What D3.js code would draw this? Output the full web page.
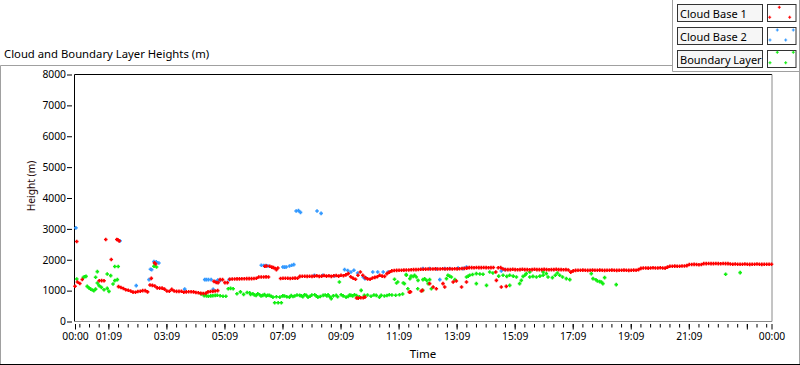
<!DOCTYPE html>
<html>
<head>
<meta charset="utf-8">
<script src="https://cdn.jsdelivr.net/npm/d3@7"></script>
<style>
  body { margin: 0; background: #fff; }
  svg text { font-family: "Noto Sans", "Segoe UI", sans-serif; fill: #000; }
</style>
</head>
<body>
<svg id="chart" width="800" height="365"></svg>
<script>

var seriesNames = ["Cloud Base 1", "Cloud Base 2", "Boundary Layer"];
var seriesColors = ["#ff0000", "#3399ff", "#11ee11"];

var yTicks = [0, 1000, 2000, 3000, 4000, 5000, 6000, 7000, 8000];
var timeTickHours = [0, 1.15, 3.15, 5.15, 7.15, 9.15, 11.15, 13.15, 15.15, 17.15, 19.15, 21.15, 24];
var timeTickLabels = ["00:00", "01:09", "03:09", "05:09", "07:09", "09:09", "11:09", "13:09", "15:09", "17:09", "19:09", "21:09", "00:00"];
var unlabelledMajor = [23.15];

// Cloud Base 1, dense part: [hour, height at :00, :05, :10 ... :55] (m)
var cloudBase1Rows = [
  [0, 1140, 1280, 1230, 1360, null, null, null, null, null, null, 1320, 1325],
  [1, 1320, null, null, null, null, null, 1130, 1100, 1070, 1030, 1010, 990],
  [2, 950, 945, 970, 980, 1000, 1000, 960, 1180, 1170, 1150, 1090, 1080],
  [3, 1080, 1050, 990, 980, 1040, 990, 975, 975, 980, 945, 960, 965],
  [4, 965, 960, 940, 930, 910, 905, 910, 960, 970, 975, 990, 1000],
  [5, 1356, 1356, 1260, 1258, 1370, 1375, 1376, 1380, 1380, 1385, 1385, 1390],
  [6, 1390, 1390, 1395, 1400, 1440, 1440, 1441, 1445, 1440, null, null, null],
  [7, null, 1395, 1400, 1400, 1400, 1395, 1400, 1405, 1400, 1460, 1465, 1465],
  [8, 1463, 1465, 1460, 1470, 1480, 1460, 1470, 1490, 1470, 1480, 1460, 1480],
  [9, 1490, 1470, 1500, 1480, 1510, 1551, 1450, 1400, 1366, 1496, 1603, 1500],
  [10, 1420, 1380, 1366, 1408, 1430, 1450, 1496, 1470, 1463, 1551, 1600, 1640],
  [11, 1650, 1655, 1660, 1660, 1665, 1670, 1670, 1675, 1680, 1680, 1685, 1690],
  [12, 1690, 1695, 1700, 1700, 1700, 1705, 1700, 1700, 1710, 1700, 1705, 1710],
  [13, 1700, 1710, 1705, 1710, 1715, 1720, 1730, 1746, 1746, 1740, 1750, 1746],
  [14, 1746, 1750, 1746, 1740, 1746, 1750, 1603, 1740, 1746, 1700, 1681, 1681],
  [15, 1681, 1690, 1681, 1675, 1681, 1690, 1681, 1681, 1675, 1681, 1690, 1681],
  [16, 1681, 1681, 1690, 1681, 1675, 1681, 1681, 1690, 1681, 1681, 1675, 1681],
  [17, 1670, 1600, 1640, 1655, 1660, 1659, 1665, 1659, 1655, 1659, 1665, 1659],
  [18, 1659, 1665, 1659, 1655, 1659, 1659, 1665, 1659, 1655, 1659, 1659, 1665],
  [19, 1659, 1655, 1659, 1665, 1659, 1680, 1720, 1734, 1734, 1730, 1734, 1740],
  [20, 1734, 1734, 1740, 1734, 1730, 1760, 1789, 1789, 1795, 1789, 1789, 1800],
  [21, 1800, 1810, 1844, 1844, 1850, 1844, 1840, 1844, 1876, 1876, 1880, 1876],
  [22, 1876, 1880, 1876, 1870, 1880, 1876, 1876, 1860, 1854, 1860, 1854, 1854],
  [23, 1854, 1860, 1854, 1850, 1854, 1854, 1860, 1854, 1850, 1854, 1854, 1854]
];

// Cloud Base 1, scattered points: [hour, height]
var cloudBase1Extra = [
  [0.06, 2590], [1.06, 2657], [1.44, 2657], [1.48, 2650], [1.52, 2612], [1.25, 2006],
  [2.63, 1398], [2.74, 1900], [2.78, 1863], [4.79, 1300], [4.87, 1262], [4.93, 1258],
  [6.54, 1789], [6.60, 1800], [6.71, 1789], [6.78, 1760], [6.84, 1745], [6.90, 1714],
  [6.94, 1681], [6.99, 1733], [9.70, 760], [9.76, 758], [9.85, 770], [9.93, 771],
  [9.99, 790], [11.52, 953], [11.56, 960], [11.93, 986], [11.97, 1008], [12.22, 1226],
  [12.34, 1115], [12.45, 1063], [12.68, 1226], [12.74, 1115], [13.03, 1278], [13.14, 1311],
  [13.32, 1115], [13.49, 1278], [14.52, 1333], [14.69, 1115], [14.86, 1138], [24, 1854]
];

// Cloud Base 2: [hour, height]
var cloudBase2 = [
  [0.03, 3034], [1.55, 2612], [2.11, 1161], [2.55, 1356], [2.60, 1690], [2.64, 1681],
  [2.72, 1942], [2.80, 1930], [2.89, 1897], [3.78, 1050], [4.47, 1356], [4.53, 1356],
  [4.60, 1356], [4.69, 1356], [4.76, 1040], [4.85, 1291], [4.92, 1340], [5.00, 1330],
  [5.31, 1356], [6.42, 1821], [6.50, 1815], [6.58, 1810], [6.65, 1798], [7.16, 1766],
  [7.22, 1760], [7.28, 1766], [7.39, 1798], [7.47, 1820], [7.54, 1843], [7.62, 3577],
  [7.70, 3590], [7.77, 3535], [8.34, 3577], [8.48, 3502], [8.25, 1496], [8.54, 1496],
  [8.94, 1473], [9.29, 1681], [9.40, 1650], [9.51, 1603], [9.61, 1659], [9.74, 1571],
  [9.93, 1441], [9.99, 1389], [10.03, 1408], [10.26, 1603], [10.43, 1603], [10.62, 1603],
  [10.79, 1603], [11.99, 1714], [12.22, 1714], [12.45, 1700], [12.57, 1356], [12.74, 1714],
  [12.91, 1714], [13.20, 1730], [13.37, 1714], [13.49, 1767], [14.69, 1636], [14.81, 1681]
];

// Boundary Layer: [hour, height]
var boundaryLayer = [
  [0.06, 1376], [0.29, 1431], [0.33, 1450], [0.38, 1463], [0.42, 1138], [0.48, 1090],
  [0.54, 1050], [0.60, 1020], [0.65, 998], [0.71, 1050], [0.71, 1431], [0.77, 1616],
  [0.77, 1245], [0.83, 1161], [0.91, 1106], [1.00, 1030], [1.11, 1073], [1.11, 1538],
  [1.17, 976], [1.23, 1486], [1.31, 1213], [1.37, 1323], [1.46, 1356], [1.37, 1779],
  [1.49, 1779], [2.72, 1789], [2.75, 1877], [2.81, 1767],
  [4.35, 890], [4.45, 836], [4.53, 830], [4.60, 820], [4.68, 830], [4.75, 836],
  [4.83, 845], [4.90, 850], [5.00, 836], [5.10, 820], [5.20, 820], [5.28, 1063],
  [5.36, 1073], [5.45, 1063], [5.58, 900], [5.70, 960], [5.81, 880], [5.93, 940],
  [6.02, 933], [6.05, 880], [6.13, 900], [6.18, 860], [6.24, 845], [6.30, 900],
  [6.36, 868], [6.41, 830], [6.47, 845], [6.53, 870], [6.59, 824], [6.64, 850],
  [6.70, 845], [6.76, 820], [6.82, 790], [6.88, 608], [6.94, 800], [7.00, 608],
  [7.06, 790], [7.11, 608], [7.16, 830], [7.22, 824], [7.30, 800], [7.39, 790],
  [7.45, 840], [7.51, 810], [7.57, 824], [7.65, 860], [7.74, 845], [7.80, 830],
  [7.85, 800], [7.91, 868], [7.97, 850], [8.03, 790], [8.10, 820], [8.16, 860],
  [8.26, 868], [8.31, 830], [8.37, 790], [8.45, 810], [8.55, 845], [8.62, 860],
  [8.68, 830], [8.72, 868], [8.78, 800], [8.83, 738], [8.90, 830], [9.00, 845],
  [9.05, 800], [9.11, 1278], [9.17, 868], [9.24, 830], [9.34, 790], [9.41, 810],
  [9.46, 860], [9.51, 845], [9.57, 830], [9.63, 868], [9.70, 840], [9.80, 800],
  [9.86, 1008], [9.97, 845], [10.08, 860], [10.20, 820], [10.30, 860], [10.38, 845],
  [10.49, 790], [10.55, 850], [10.66, 824], [10.75, 840], [10.83, 868], [10.92, 860],
  [11.01, 1366], [11.05, 850], [11.08, 1245], [11.12, 1278], [11.18, 868], [11.29, 890],
  [11.31, 1245], [11.35, 1226], [11.41, 1519], [11.42, 1496], [11.47, 1063], [11.54, 1389],
  [11.58, 1473], [11.65, 1463], [11.70, 1496], [11.76, 1441], [11.81, 1063], [11.82, 1333],
  [11.98, 1008], [11.99, 1356], [12.05, 1380], [12.12, 1330], [12.17, 1226], [12.22, 1356],
  [12.28, 1063], [12.80, 1389], [12.85, 1496], [12.91, 1470], [12.97, 1441], [13.09, 1356],
  [13.49, 1441], [13.55, 1470], [13.60, 1496], [13.70, 1520], [13.83, 1551], [13.83, 1226],
  [13.95, 1540], [14.06, 1529], [14.18, 1171], [14.29, 1603], [14.40, 1571], [14.60, 1470],
  [14.75, 1500], [14.88, 1460], [14.98, 1496], [14.98, 1171], [15.10, 1470], [15.21, 1441],
  [15.32, 1226], [15.38, 1333], [15.44, 1463], [15.50, 1500], [15.55, 1551], [15.67, 1441],
  [15.67, 1603], [15.78, 1460], [15.90, 1441], [16.02, 1470], [16.13, 1496], [16.13, 1603],
  [16.24, 1551], [16.30, 1441], [16.45, 1421], [16.55, 1496], [16.62, 1571], [16.70, 1496],
  [16.80, 1441], [16.93, 1389], [17.05, 1356], [17.79, 1551], [17.85, 1389], [17.95, 1350],
  [18.00, 1310], [18.08, 1290], [18.14, 1278], [18.19, 1226], [18.25, 1421], [18.65, 1193],
  [22.42, 1529], [22.92, 1584]
];

var svg = d3.select("#chart");

var x = d3.scaleLinear().domain([0, 24]).range([75, 771.5]);
var y = d3.scaleLinear().domain([0, 8000]).range([321.5, 74.5]);

/* frames */
var frameGray = "#a0a0a0";
svg.append("rect").attr("x", 0).attr("y", 0).attr("width", 800).attr("height", 365).attr("fill", "#fff");
svg.append("path")
    .attr("d", "M0.5,364V65.5H672.5M799.5,0V364")
    .attr("fill", "none").attr("stroke", frameGray);
svg.append("path")
    .attr("d", "M672.5,0V71.5H800")
    .attr("fill", "none").attr("stroke", frameGray);
svg.append("line")
    .attr("x1", 0).attr("x2", 800).attr("y1", 364.5).attr("y2", 364.5)
    .attr("stroke", "#000");

svg.append("text")
    .attr("x", 4).attr("y", 58)
    .style("font-size", "11.3px")
    .text("Cloud and Boundary Layer Heights (m)");

/* plot area */
svg.append("rect")
    .attr("x", 74.5).attr("y", 74.5)
    .attr("width", 697.5).attr("height", 247)
    .attr("fill", "#fff");
svg.append("path")
    .attr("d", "M74.5,321.5V74.5H772")
    .attr("fill", "none").attr("stroke", "#000");
svg.append("path")
    .attr("d", "M772,74.5V321.5H74.5")
    .attr("fill", "none").attr("stroke", "#8a8a8a");

/* y axis */
var yAxis = svg.append("g")
    .attr("transform", "translate(72,0)")
    .call(d3.axisLeft(y).tickValues(yTicks).tickSize(5).tickPadding(1).tickFormat(function(d) { return d; }));
yAxis.select(".domain").remove();
yAxis.selectAll("text").attr("font-family", null).attr("font-size", null).style("font-size", "10.3px");

/* x axis: minor ticks every 20 min, major every 2 h */
var xMinor = svg.append("g")
    .attr("transform", "translate(0,324)")
    .call(d3.axisBottom(x).tickValues([0].concat(d3.range(0.15, 24, 1 / 3))).tickSize(3.5).tickFormat(""));
xMinor.select(".domain").remove();

var xMajor = svg.append("g")
    .attr("transform", "translate(0,324)")
    .call(d3.axisBottom(x)
      .tickValues(timeTickHours.concat(unlabelledMajor))
      .tickSize(5.5).tickPadding(3.5)
      .tickFormat(function(d) { var i = timeTickHours.indexOf(d); return i < 0 ? "" : timeTickLabels[i]; }));
xMajor.select(".domain").remove();
xMajor.selectAll("text").attr("font-family", null).attr("font-size", null).style("font-size", "10.3px");
svg.selectAll(".tick line").attr("stroke", "#000");

svg.append("text")
    .attr("x", 423).attr("y", 358)
    .attr("text-anchor", "middle")
    .style("font-size", "11.5px")
    .text("Time");

svg.append("text")
    .attr("transform", "translate(35,186) rotate(-90)")
    .attr("text-anchor", "middle")
    .style("font-size", "10.2px")
    .style("fill", "#2a0c0c")
    .text("Height (m)");

/* points */
var cb1Points = [];
cloudBase1Rows.forEach(function(r) {
  r.slice(1).forEach(function(v, i) {
    if (v != null) cb1Points.push([r[0] + i * 5 / 60, v]);
  });
});
cloudBase1Extra.forEach(function(p) { cb1Points.push(p); });

function plus(px, py, s) {
  return "M" + (px - s) + "," + py + "h" + (2 * s) + "M" + px + "," + (py - s) + "v" + (2 * s);
}

function drawSeries(data, color) {
  svg.append("path")
      .attr("d", data.map(function(d) { return plus(x(d[0]), y(d[1]), 1.8); }).join(""))
      .attr("fill", "none")
      .attr("stroke", color)
      .attr("stroke-width", 1.6);
}

drawSeries(boundaryLayer, seriesColors[2]);
drawSeries(cloudBase2, seriesColors[1]);
drawSeries(cb1Points, seriesColors[0]);

/* legend */
var legendIcon = [
  [[12.3, 3.3], [2.7, 13.3], [22.7, 13.3]],
  [[10.3, 3], [26.3, 3], [3, 13], [18.7, 13]],
  [[10.3, 2.3], [26.3, 2.3], [3, 12.7], [18.7, 12.7]]
];

var legend = svg.selectAll(".legendRow")
    .data(seriesNames)
    .enter().append("g")
      .attr("class", "legendRow")
      .attr("transform", function(d, i) { return "translate(0," + (i * 23) + ")"; });

legend.append("rect")
    .attr("x", 677.5).attr("y", 4.5).attr("width", 85).attr("height", 17)
    .attr("fill", "#f6f6f6").attr("stroke", "#333");
legend.append("text")
    .attr("x", 680).attr("y", 17.5)
    .style("font-size", "11px")
    .text(function(d) { return d; });
legend.append("rect")
    .attr("x", 767.5).attr("y", 4.5).attr("width", 28.5).attr("height", 17)
    .attr("fill", "#fff").attr("stroke", "#333");
legend.append("path")
    .attr("d", function(d, i) {
      return legendIcon[i].map(function(p) { return plus(767 + p[0], 4 + p[1], 1.5); }).join("");
    })
    .attr("fill", "none")
    .attr("stroke", function(d, i) { return seriesColors[i]; })
    .attr("stroke-width", 1.1);

</script>
</body>
</html>
